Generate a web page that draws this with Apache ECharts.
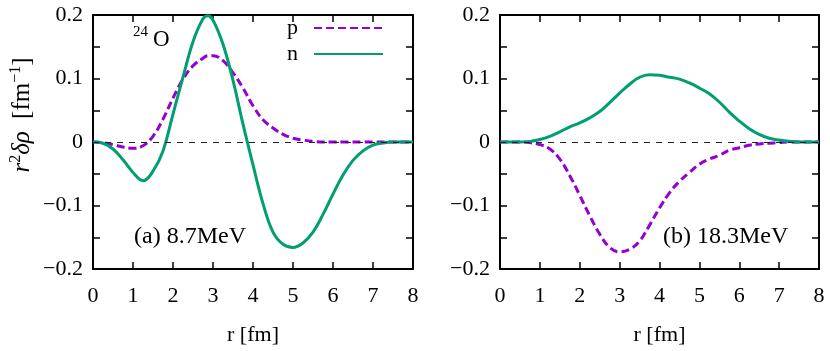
<!DOCTYPE html>
<html><head><meta charset="utf-8">
<script src="https://cdn.jsdelivr.net/npm/echarts@6/dist/echarts.min.js"></script>
<style>html,body{margin:0;padding:0;background:#fff}
#wrap{position:relative;width:830px;height:351px;overflow:hidden}
.ch{position:absolute;left:0;top:0;width:830px;height:351px}
#yt{position:absolute;left:-49px;top:101px;width:140px;height:28px;line-height:28px;text-align:center;
 transform:rotate(-90deg);transform-origin:50% 50%;font-family:"Liberation Serif","DejaVu Serif",serif;font-size:25px;color:#000;word-spacing:6px;white-space:nowrap;z-index:5}
#yt sup{font-size:16px;line-height:0;vertical-align:9px}</style>
</head><body><div id="wrap"><div class="ch" id="c0"></div><div class="ch" id="c1"></div>
<div id="yt"><i>r</i><sup>2</sup><i>&#948;&#961;</i> [fm<sup>&#8722;1</sup>]</div></div>
<script>
// ---- data ----
const rLeft  = [0,0.25,0.5,0.75,1,1.25,1.5,1.75,2,2.25,2.5,2.75,2.875,3,3.25,3.5,3.75,4,4.25,4.5,4.75,5,5.25,5.5,5.75,6,6.25,6.5,6.75,7,7.25,7.5,7.75,8];
const nLeft  = [0,-0.002,-0.011,-0.028,-0.048,-0.061,-0.046,-0.014,0.044,0.102,0.158,0.194,0.199,0.192,0.154,0.097,0.028,-0.036,-0.097,-0.142,-0.161,-0.166,-0.159,-0.142,-0.114,-0.082,-0.052,-0.029,-0.014,-0.005,-0.0015,0,0,0];
const pLeft  = [0,-0.001,-0.004,-0.008,-0.010,-0.006,0.009,0.036,0.069,0.099,0.120,0.132,0.136,0.136,0.128,0.109,0.085,0.057,0.035,0.022,0.012,0.006,0.003,0.001,0,0,0,0,0,0,0,0,0,0];
const rRight = [0,0.25,0.5,0.75,1,1.25,1.5,1.75,2,2.25,2.5,2.75,3,3.25,3.5,3.75,4,4.25,4.5,4.75,5,5.25,5.5,5.75,6,6.25,6.5,6.75,7,7.25,7.5,7.75,8];
const nRight = [0,0,0,0.001,0.004,0.009,0.016,0.024,0.030,0.038,0.048,0.062,0.077,0.091,0.102,0.106,0.105,0.102,0.099,0.093,0.085,0.076,0.063,0.047,0.033,0.021,0.012,0.006,0.003,0.001,0,0,0];
const pRight = [0,0,0,-0.001,-0.004,-0.011,-0.027,-0.053,-0.084,-0.116,-0.145,-0.166,-0.173,-0.169,-0.156,-0.131,-0.104,-0.080,-0.062,-0.048,-0.035,-0.027,-0.021,-0.013,-0.009,-0.005,-0.003,-0.002,-0.001,0,0,0,0];
const xTickLabels = ['0','1','2','3','4','5','6','7','8'];
const yTickLabels = ['\u22120.2','\u22120.1','0','0.1','0.2'];
const seriesNames = ['p','n'];
const panelLabels = ['(a) 8.7MeV','(b) 18.3MeV'];
const xTitle = 'r [fm]';

// ---- styling ----
const FONT = '"Liberation Serif", "DejaVu Serif", serif';
const PINK = '#9400D3', GREEN = '#009E73';
function pairs(xs, ys){ return xs.map((x,i)=>[x, ys[i]]); }
function yFmt(v){ const k = Math.round(v*20); return (k % 2 === 0) ? yTickLabels[k/2 + 2] : ''; }
function xFmt(v){ return xTickLabels[Math.round(v)]; }
function axLine(){ return {show:true, onZero:false, lineStyle:{color:'#000', width:2, type:'solid'}}; }
function axTick(){ return {show:true, inside:true, length:7, lineStyle:{color:'#000', width:1.5}}; }
function lf(){ return {color:'#000', fontFamily:FONT, fontSize:22}; }

const grids = [
  {left:93, top:15, width:320, height:254},
  {left:500, top:15, width:319, height:254}
];
const panels = [[rLeft, pLeft, nLeft],[rRight, pRight, nRight]];

function panelOption(i){
  const [rs, ps, ns] = panels[i];
  const opt = {
    animation:false,
    grid:[grids[i]],
    xAxis:[
      {type:'value', gridIndex:0, position:'bottom', min:0, max:8, interval:1,
       splitLine:{show:false}, axisLine:axLine(), axisTick:axTick(),
       axisLabel:Object.assign({show:true, margin:16, formatter:xFmt, showMinLabel:true, showMaxLabel:true, hideOverlap:false}, lf()),
       name:xTitle, nameLocation:'middle', nameGap:55, nameTextStyle:lf()},
      {type:'value', gridIndex:0, position:'top', min:0, max:8, interval:1,
       splitLine:{show:false}, axisLine:axLine(), axisTick:axTick(), axisLabel:{show:false}}],
    yAxis:[
      {type:'value', gridIndex:0, position:'left', min:-0.2, max:0.2, interval:0.05,
       splitLine:{show:false}, axisLine:axLine(), axisTick:axTick(),
       axisLabel:Object.assign({show:true, margin:10, formatter:yFmt, showMinLabel:true, showMaxLabel:true, hideOverlap:false}, lf())},
      {type:'value', gridIndex:0, position:'right', min:-0.2, max:0.2, interval:0.05,
       splitLine:{show:false}, axisLine:axLine(), axisTick:axTick(), axisLabel:{show:false}}],
    series:[
      {name:seriesNames[0], type:'line', xAxisIndex:0, yAxisIndex:0, data:pairs(rs, ps), smooth:0.4, symbol:'none',
       lineStyle:{color:PINK, width:3, type:[8,4]}, itemStyle:{color:PINK},
       markLine:{silent:true, symbol:'none', label:{show:false},
         lineStyle:{color:'#222', width:1, type:[6,6]}, data:[{yAxis:0}]}},
      {name:seriesNames[1], type:'line', xAxisIndex:0, yAxisIndex:0, data:pairs(rs, ns), smooth:0.4, symbol:'none',
       lineStyle:{color:GREEN, width:3}, itemStyle:{color:GREEN}}],
    graphic:[
      {type:'text', left:(i === 0 ? 134 : 663), top:225, style:{text:panelLabels[i], fontFamily:FONT, fontSize:24, fill:'#000'}}
    ]
  };
  if (i === 0) {
    opt.legend = {data:seriesNames, orient:'vertical', left:282, top:12, align:'right',
      itemWidth:69, itemHeight:12, itemGap:4, itemStyle:{opacity:0},
      textStyle:{color:'#000', fontFamily:FONT, fontSize:22, padding:[0,11,0,0]}};
    opt.graphic.push({type:'text', left:133, top:25, style:{text:'24', fontFamily:FONT, fontSize:15, fill:'#000'}});
    opt.graphic.push({type:'text', left:153, top:28, style:{text:'O', fontFamily:FONT, fontSize:23, fill:'#000'}});
  }
  return opt;
}

echarts.init(document.getElementById('c0')).setOption(panelOption(0));
echarts.init(document.getElementById('c1')).setOption(panelOption(1));
</script></body></html>
